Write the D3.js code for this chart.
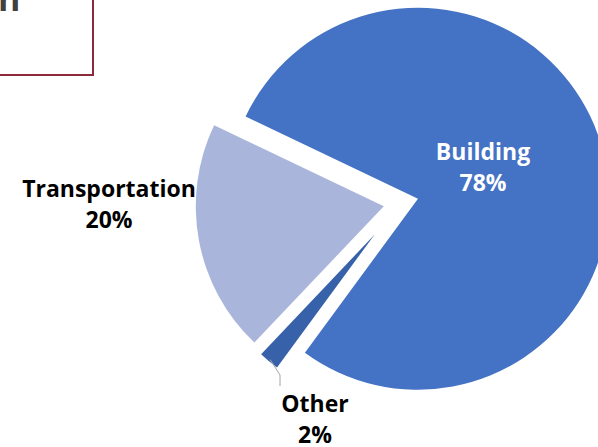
<!DOCTYPE html>
<html>
<head>
<meta charset="utf-8">
<script src="https://cdn.jsdelivr.net/npm/d3@7"></script>
<style>
  html, body { margin: 0; padding: 0; background: #fff; overflow: hidden; }
  svg { display: block; }
  text { font-family: "Open Sans", "Noto Sans", sans-serif; font-weight: 700; }
</style>
</head>
<body>
<svg id="chart" width="598" height="447"></svg>
<script>
// Energy use by sector, drawn clockwise
const categories = ["Building", "Other", "Transportation"];
const shares = [78, 2, 20];
const shareLabels = ["78%", "2%", "20%"];

const width = 598, height = 447;
const svg = d3.select("#chart");

// Framed title box in the top-left corner (partly off-page)
svg.append("rect")
  .attr("x", -40).attr("y", -40)
  .attr("width", 133).attr("height", 115)
  .attr("fill", "none")
  .attr("stroke", "#8C2A3C")
  .attr("stroke-width", 2);
svg.append("text")
  .attr("x", -2).attr("y", 11)
  .attr("font-size", 34)
  .attr("fill", "#404040")
  .text("n");

// Pie geometry
const cx = 401, cy = 203;
const startDeg = -64.5;
const rad = d => d * Math.PI / 180;

// Per-slice explosion distance and radius
const sliceStyle = {
  "Building":       { explode: 17.5, radius: 191 },
  "Other":          { explode: 41,   radius: 165 },
  "Transportation": { explode: 17.5, radius: 188 }
};

const colors = d3.scaleOrdinal()
  .domain(categories)
  .range(["#4472C4", "#3761A8", "#A9B5DA"]);

const pie = d3.pie()
  .sort(null)
  .value(d => d.value)
  .startAngle(rad(startDeg))
  .endAngle(rad(startDeg + 360));

const data = categories.map((c, i) => ({ name: c, value: shares[i], label: shareLabels[i] }));
const arcs = pie(data);

const arc = d3.arc()
  .innerRadius(0)
  .outerRadius(d => sliceStyle[d.data.name].radius);

const g = svg.append("g").attr("transform", `translate(${cx},${cy})`);

g.selectAll("path.slice")
  .data(arcs)
  .join("path")
  .attr("class", "slice")
  .attr("fill", d => colors(d.data.name))
  .attr("transform", d => {
    const mid = (d.startAngle + d.endAngle) / 2;
    const e = sliceStyle[d.data.name].explode;
    return `translate(${Math.sin(mid) * e},${-Math.cos(mid) * e})`;
  })
  .attr("d", arc);

// Label placement (page coordinates of each label's first baseline)
const labelLayout = {
  "Building":       { x: 483, y: 160, fill: "#FFFFFF" },
  "Transportation": { x: 109, y: 197, fill: "#000000" },
  "Other":          { x: 315, y: 412, fill: "#000000" }
};
const lineGap = 31;

// Leader line for the small slice
const otherArc = arcs.find(d => d.data.name === "Other");
const oMid = (otherArc.startAngle + otherArc.endAngle) / 2;
const oS = sliceStyle["Other"];
const tipR = oS.radius + oS.explode - 2;
const tip = [cx + Math.sin(oMid) * tipR, cy - Math.cos(oMid) * tipR];
svg.append("polyline")
  .attr("points", [tip, [280, 375], [280, 386]].map(p => p.join(",")).join(" "))
  .attr("fill", "none")
  .attr("stroke", "#A6A6A6")
  .attr("stroke-width", 1);

arcs.forEach(d => {
  const L = labelLayout[d.data.name];
  const t = svg.append("text")
    .attr("text-anchor", "middle")
    .attr("font-size", 23)
    .attr("fill", L.fill);
  t.append("tspan").attr("x", L.x).attr("y", L.y).text(d.data.name);
  t.append("tspan").attr("x", L.x).attr("y", L.y + lineGap).text(d.data.label);
});
</script>
</body>
</html>
